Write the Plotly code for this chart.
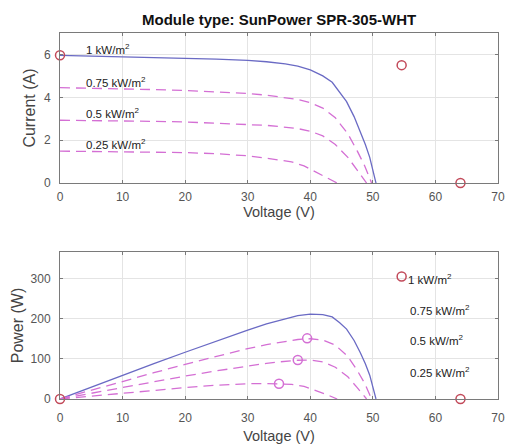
import plotly.graph_objects as go
from plotly.subplots import make_subplots

# ---- data ----
v_1000 = [0, 5, 10, 15, 20, 25, 30, 33, 36, 38, 40, 42, 43.5, 44.7, 45.8, 47, 48, 48.8, 49.5, 50, 50.5]
i_1000 = [5.96, 5.93, 5.9, 5.86, 5.82, 5.78, 5.72, 5.66, 5.56, 5.46, 5.28, 5.0, 4.7, 4.25, 3.8, 3.1, 2.4, 1.8, 1.2, 0.6, 0.0]

v_750 = [0, 5, 10, 15, 20, 25, 30, 33, 36, 38, 40, 42, 44, 46, 47.5, 48.7, 49.8]
i_750 = [4.45, 4.43, 4.4, 4.36, 4.32, 4.26, 4.18, 4.1, 4.0, 3.9, 3.75, 3.5, 3.05, 2.3, 1.5, 0.8, 0.0]

v_500 = [0, 5, 10, 15, 20, 25, 30, 33, 35, 37, 38, 40, 42, 44, 46, 47.5, 49]
i_500 = [2.93, 2.92, 2.9, 2.88, 2.85, 2.8, 2.74, 2.69, 2.64, 2.58, 2.54, 2.42, 2.2, 1.8, 1.2, 0.6, 0.0]

v_250 = [0, 5, 10, 15, 20, 25, 30, 33, 35, 37, 39, 41, 42.5, 44.3]
i_250 = [1.49, 1.48, 1.47, 1.45, 1.42, 1.37, 1.27, 1.16, 1.09, 0.99, 0.8, 0.5, 0.28, 0.0]

mpp_v = [39.5, 38, 35]
mpp_p = [151, 97, 38]

red_v_top = [0, 54.6, 64]
red_i_top = [5.96, 5.5, 0]
red_v_bot = [0, 54.6, 64]
red_p_bot = [0, 305, 0]

labels = ["1 kW/m<sup>2</sup>", "0.75 kW/m<sup>2</sup>", "0.5 kW/m<sup>2</sup>", "0.25 kW/m<sup>2</sup>"]
label_i_top = [6.25, 4.7, 3.25, 1.8]
label_v_bot = [55.3, 55.6, 55.6, 55.6]
label_p_bot = [300, 222, 147, 68]

x_ticks = [0, 10, 20, 30, 40, 50, 60, 70]
i_ticks = [0, 2, 4, 6]
p_ticks = [0, 100, 200, 300]

BLUE = "#6a6ac4"
MAG = "#d46fd4"
RED = "#c24a5a"
FONT = "Liberation Sans, Arial, sans-serif"
DASH = "10px,6px"

fig = make_subplots(rows=2, cols=1)
fig.update_layout(
    xaxis=dict(domain=[0, 1], anchor="y"),
    yaxis=dict(domain=[0.59, 1.0], anchor="x"),
    xaxis2=dict(domain=[0, 1], anchor="y2"),
    yaxis2=dict(domain=[0.0, 0.4016], anchor="x2"),
)

curves = [(v_1000, i_1000, BLUE, "solid"), (v_750, i_750, MAG, DASH),
          (v_500, i_500, MAG, DASH), (v_250, i_250, MAG, DASH)]
for v, i, c, d in curves:
    fig.add_trace(go.Scatter(x=v, y=i, mode="lines", line=dict(color=c, width=1.3, dash=d),
                             showlegend=False), row=1, col=1)
    p = [a * b for a, b in zip(v, i)]
    fig.add_trace(go.Scatter(x=v, y=p, mode="lines", line=dict(color=c, width=1.3, dash=d),
                             showlegend=False), row=2, col=1)

fig.add_trace(go.Scatter(x=mpp_v, y=mpp_p, mode="markers",
                         marker=dict(symbol="circle-open", size=9, color=MAG, line=dict(width=1.5)),
                         showlegend=False), row=2, col=1)
fig.add_trace(go.Scatter(x=red_v_top, y=red_i_top, mode="markers",
                         marker=dict(symbol="circle-open", size=9, color=RED, line=dict(width=1.5)),
                         showlegend=False, cliponaxis=False), row=1, col=1)
fig.add_trace(go.Scatter(x=red_v_bot, y=red_p_bot, mode="markers",
                         marker=dict(symbol="circle-open", size=9, color=RED, line=dict(width=1.5)),
                         showlegend=False, cliponaxis=False), row=2, col=1)

for lab, yi in zip(labels, label_i_top):
    fig.add_annotation(x=3.9, y=yi, xref="x", yref="y", text=lab, showarrow=False,
                       xanchor="left", yanchor="middle", font=dict(size=11.5, color="#222", family=FONT))
for lab, xv, yp in zip(labels, label_v_bot, label_p_bot):
    fig.add_annotation(x=xv, y=yp, xref="x2", yref="y2", text=lab, showarrow=False,
                       xanchor="left", yanchor="middle", font=dict(size=11.5, color="#222", family=FONT))

fig.add_annotation(x=0.5, y=1.0, xref="paper", yref="paper", yshift=3, text="<b>Module type: SunPower SPR-305-WHT</b>",
                   showarrow=False, xanchor="center", yanchor="bottom", font=dict(size=15, color="#111", family=FONT))

ax_common = dict(showline=True, linecolor="#7a7a7a", linewidth=1, mirror="ticks", ticks="inside",
                 ticklen=3, tickcolor="#7a7a7a", showgrid=True, gridcolor="#e4e4e4", zeroline=False,
                 automargin=False, tickfont=dict(size=12, color="#555", family=FONT))

fig.update_xaxes(range=[0, 70], tickvals=x_ticks, ticklabeloverflow="allow", **ax_common)
fig.update_xaxes(ticklabelstandoff=3,
                 title=dict(text="Voltage (V)", font=dict(size=14.5, color="#444", family=FONT), standoff=3),
                 row=1, col=1)
fig.update_xaxes(ticklabelstandoff=8,
                 title=dict(text="Voltage (V)", font=dict(size=14.5, color="#444", family=FONT), standoff=6),
                 row=2, col=1)
fig.update_yaxes(range=[0, 7], tickvals=i_ticks, ticklabelstandoff=6,
                 title=dict(text="Current (A)", font=dict(size=16, color="#444", family=FONT), standoff=4),
                 row=1, col=1, **ax_common)
fig.update_yaxes(range=[0, 366], tickvals=p_ticks, ticklabelstandoff=6,
                 title=dict(text="Power (W)", font=dict(size=16, color="#444", family=FONT), standoff=2),
                 row=2, col=1, **ax_common)

fig.update_layout(width=505, height=444, margin=dict(l=60, r=7, t=33, b=45, autoexpand=False),
                  plot_bgcolor="white", paper_bgcolor="white", showlegend=False,
                  font=dict(family=FONT))

fig.write_html("out.html", config={"displayModeBar": False},
               post_script="document.body.style.margin='0';document.body.style.overflow='hidden';")
